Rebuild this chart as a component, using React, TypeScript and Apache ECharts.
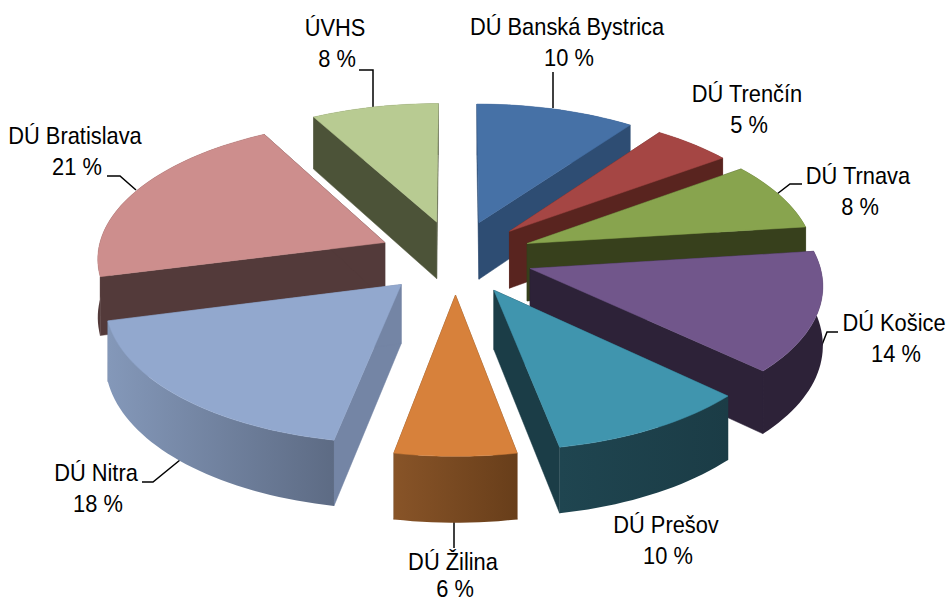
import React, { useEffect, useRef } from "react";
import * as echarts from "echarts";

const categories = ["DÚ Banská Bystrica", "DÚ Trenčín", "DÚ Trnava", "DÚ Košice", "DÚ Prešov", "DÚ Žilina", "DÚ Nitra", "DÚ Bratislava", "ÚVHS"];
const shares = [10, 5, 8, 14, 10, 6, 18, 21, 8];

const topColors = ["#4671a6", "#a54644", "#88a44e", "#71568b", "#4095ae", "#d7813b", "#92a8ce", "#cd8e8d", "#b8cb92"];
const radialColors = ["#2e4d73", "#59241f", "#37401c", "#2d2238", "#1b3d47", "#6f431f", "#7485a5", "#533a3a", "#4c5338"];
const outerFrom = ["#2e4d73", "#59241f", "#37401c", "#2d2238", "#1f4550", "#885428", "#8498b9", "#533a3a", "#4c5338"];
const outerTo = ["#2e4d73", "#59241f", "#37401c", "#2d2238", "#1b3c46", "#683e1a", "#5d6b84", "#533a3a", "#4c5338"];

// Back-to-front painting order of the slices.
const paintOrder = [0, 8, 1, 2, 7, 3, 6, 4, 5];

// Label layout: centre x, name-line y, value-line y, then the leader line (if any).
const labelLayout: { x: number; y: number; vy: number; leader?: number[][] }[] = [
  { x: 567, y: 27, vy: 58, leader: [[553, 72], [553, 108]] },
  { x: 747, y: 94, vy: 125 },
  { x: 858, y: 176, vy: 207, leader: [[802, 184], [790, 184], [777, 194]] },
  { x: 894, y: 323, vy: 354, leader: [[838, 332], [827, 332], [812, 370]] },
  { x: 666, y: 525, vy: 556 },
  { x: 453, y: 562, vy: 589, leader: [[454, 522], [454, 548]] },
  { x: 96, y: 473, vy: 504, leader: [[142, 482], [153, 482], [180, 460]] },
  { x: 75, y: 136, vy: 167, leader: [[107, 176], [120, 176], [136, 190]] },
  { x: 335, y: 28, vy: 59, leader: [[359, 70], [373, 70], [373, 107]] },
];

// Perspective projection of the pie's plane.
const CX = 455.5, CY = 257, RX = 288, RY = 137, PERSP = 0.1, DEPTH = 58, EXPLODE = 0.27;
const project = (X: number, Y: number, down: boolean): number[] => {
  const w = 1 / (1 - PERSP * Y);
  return [CX + RX * X * w, CY + RY * Y * w + (down ? DEPTH * w : 0)];
};

const total = shares.reduce((a, b) => a + b, 0);
const startShare = shares.map((_, i) => shares.slice(0, i).reduce((a, b) => a + b, 0));

function sliceShapes(i: number) {
  const a0 = (startShare[i] / total) * Math.PI * 2;
  const a1 = ((startShare[i] + shares[i]) / total) * Math.PI * 2;
  const mid = (a0 + a1) / 2;
  const ox = EXPLODE * Math.sin(mid);
  const oy = -EXPLODE * Math.cos(mid);
  const steps = Math.max(4, Math.ceil((a1 - a0) / 0.03));
  const arc: number[][] = [];
  for (let k = 0; k <= steps; k++) {
    const a = a0 + ((a1 - a0) * k) / steps;
    arc.push([ox + Math.sin(a), oy - Math.cos(a)]);
  }
  const top = arc.map((p) => project(p[0], p[1], false));
  const bottom = arc.map((p) => project(p[0], p[1], true));
  const apexTop = project(ox, oy, false);
  const apexBottom = project(ox, oy, true);
  const fill = (c: string) => ({ fill: c, stroke: c, lineWidth: 0.5 });
  return [
    { type: "polygon", shape: { points: [apexTop, top[0], bottom[0], apexBottom] }, style: fill(radialColors[i]) },
    { type: "polygon", shape: { points: [apexTop, top[steps], bottom[steps], apexBottom] }, style: fill(radialColors[i]) },
    {
      type: "polygon",
      shape: { points: [...top, ...bottom.slice().reverse()] },
      style: {
        fill: new echarts.graphic.LinearGradient(0, 0, 1, 0, [
          { offset: 0, color: outerFrom[i] },
          { offset: 1, color: outerTo[i] },
        ]),
      },
    },
    { type: "polygon", shape: { points: [apexTop, ...top] }, style: fill(topColors[i]) },
  ];
}

const textEl = (text: string, x: number, y: number) => ({
  type: "text",
  x,
  y,
  scaleX: 0.91,
  style: {
    text,
    x: 0,
    y: 0,
    fontFamily: "Liberation Sans",
    fontSize: 24,
    lineHeight: 24,
    fill: "#000",
    align: "center",
    verticalAlign: "middle",
  },
});

export default function App() {
  const ref = useRef<HTMLDivElement>(null);
  useEffect(() => {
    document.body.style.margin = "0";
    const chart = echarts.init(ref.current!, undefined, { renderer: "svg" });
    const texts: any[] = [];
    categories.forEach((name, i) => {
      const l = labelLayout[i];
      texts.push(textEl(name, l.x, l.y));
      texts.push(textEl(`${shares[i]} %`, l.x + 2, l.vy));
      if (l.leader) {
        texts.push({
          type: "polyline",
          shape: { points: l.leader },
          style: { stroke: "#000", lineWidth: 1.5, fill: "none" },
        });
      }
    });
    chart.setOption({
      animation: false,
      backgroundColor: "#fff",
      series: [
        {
          type: "custom",
          coordinateSystem: "none",
          silent: true,
          data: paintOrder.map((i) => shares[i]),
          renderItem: (params: any) => ({
            type: "group",
            children: sliceShapes(paintOrder[params.dataIndex]),
          }),
        },
      ],
      graphic: { elements: texts },
    });
    return () => chart.dispose();
  }, []);
  return <div ref={ref} style={{ width: 947, height: 604 }} />;
}
